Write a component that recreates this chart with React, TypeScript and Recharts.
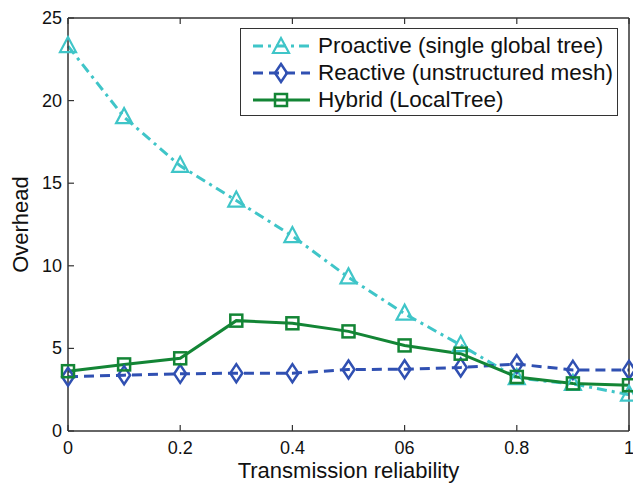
import React from 'react';
import { LineChart, Line, XAxis, YAxis, Legend } from 'recharts';

const reliability = [0, 0.1, 0.2, 0.3, 0.4, 0.5, 0.6, 0.7, 0.8, 0.9, 1];
const proactive = [23.3, 19.0, 16.05, 13.95, 11.8, 9.3, 7.1, 5.2, 3.2, 2.85, 2.2];
const reactive = [3.28, 3.38, 3.46, 3.5, 3.5, 3.72, 3.74, 3.85, 4.05, 3.7, 3.7];
const hybrid = [3.62, 4.03, 4.4, 6.68, 6.52, 6.03, 5.18, 4.68, 3.27, 2.88, 2.77];

const xTicks = [0, 0.2, 0.4, 0.6, 0.8, 1];
const xTickLabels = ['0', '0.2', '0.4', '06', '0.8', '1'];
const yTicks = [0, 5, 10, 15, 20, 25];

const FONT = '"Liberation Sans", Arial, sans-serif';
const AXIS = '#333333';
const C_PRO = '#3fc5c8';
const C_REA = '#3050b2';
const C_HYB = '#138535';

const data = reliability.map((r, i) => ({
  r,
  proactive: proactive[i],
  reactive: reactive[i],
  hybrid: hybrid[i],
}));

const series = [
  { key: 'proactive', name: 'Proactive (single global tree)', color: C_PRO, dash: '10 5 3 5', marker: 'triangle' },
  { key: 'reactive', name: 'Reactive (unstructured mesh)', color: C_REA, dash: '10 6', marker: 'diamond' },
  { key: 'hybrid', name: 'Hybrid (LocalTree)', color: C_HYB, dash: undefined, marker: 'square' },
];

function Marker({ type, cx, cy, color }: { type: string; cx: number; cy: number; color: string }) {
  if (type === 'triangle') {
    return (
      <polygon
        points={`${cx},${cy - 9} ${cx - 8},${cy + 6} ${cx + 8},${cy + 6}`}
        fill="none"
        stroke={color}
        strokeWidth={2.2}
      />
    );
  }
  if (type === 'diamond') {
    return (
      <polygon
        points={`${cx},${cy - 9} ${cx + 6},${cy} ${cx},${cy + 9} ${cx - 6},${cy}`}
        fill="none"
        stroke={color}
        strokeWidth={2.5}
      />
    );
  }
  return <rect x={cx - 6} y={cy - 6} width={12} height={12} fill="none" stroke={color} strokeWidth={2.5} />;
}

const makeDot = (type: string, color: string) => (props: any) => {
  const { cx, cy, index } = props;
  return (
    <g key={`${type}-${index}`}>
      <Marker type={type} cx={cx} cy={cy} color={color} />
    </g>
  );
};

const XTick = (props: any) => {
  const { x, y, payload } = props;
  const idx = xTicks.indexOf(payload.value);
  return (
    <g>
      <line x1={x} y1={y} x2={x} y2={y - 6} stroke={AXIS} strokeWidth={1.2} />
      <text x={x} y={y + 23} textAnchor="middle" fontSize={18} fontFamily={FONT} fill="#111">
        {idx >= 0 ? xTickLabels[idx] : ''}
      </text>
    </g>
  );
};

const TopTick = (props: any) => {
  const { x, y } = props;
  return <line x1={x} y1={y} x2={x} y2={y + 6} stroke={AXIS} strokeWidth={1.2} />;
};

const YTick = (props: any) => {
  const { x, y, payload } = props;
  return (
    <g>
      <line x1={x} y1={y} x2={x + 6} y2={y} stroke={AXIS} strokeWidth={1.2} />
      <text x={x - 6} y={y} textAnchor="end" dominantBaseline="central" fontSize={18} fontFamily={FONT} fill="#111">
        {payload.value}
      </text>
    </g>
  );
};

const RightTick = (props: any) => {
  const { x, y } = props;
  return <line x1={x} y1={y} x2={x - 6} y2={y} stroke={AXIS} strokeWidth={1.2} />;
};

const LegendBox = () => (
  <div
    style={{
      border: `1.5px solid ${AXIS}`,
      background: '#fff',
      width: 378,
      boxSizing: 'border-box',
      padding: '3px 0 2px 11px',
      fontFamily: FONT,
      fontSize: 22.5,
      color: '#111',
    }}
  >
    {series.map((s) => (
      <div key={s.key} style={{ display: 'flex', alignItems: 'center', height: 27 }}>
        <svg width={59} height={22} style={{ marginRight: 7 }}>
          <line x1={1} y1={11} x2={58} y2={11} stroke={s.color} strokeWidth={3} strokeDasharray={s.dash} />
          <Marker type={s.marker} cx={29} cy={s.marker === 'triangle' ? 12 : 11} color={s.color} />
        </svg>
        <span style={{ whiteSpace: 'nowrap' }}>{s.name}</span>
      </div>
    ))}
  </div>
);

export default function App() {
  return (
    <div style={{ position: 'absolute', left: 0, top: 0, background: '#fff' }}>
      <LineChart width={633} height={484} data={data} margin={{ top: 17, right: 0, bottom: 0, left: 0 }}>
        <XAxis
          dataKey="r"
          type="number"
          domain={[0, 1]}
          ticks={xTicks}
          height={53}
          tickLine={false}
          tickSize={0}
          tickMargin={0}
          tick={<XTick />}
          axisLine={{ stroke: AXIS, strokeWidth: 1.5 }}
          label={{ value: 'Transmission reliability', position: 'insideBottom', offset: 6, fontSize: 22, fontFamily: FONT, fill: '#111' }}
        />
        <XAxis
          xAxisId="top"
          orientation="top"
          dataKey="r"
          type="number"
          domain={[0, 1]}
          ticks={xTicks}
          height={1}
          tickLine={false}
          tickSize={0}
          tickMargin={0}
          tick={<TopTick />}
          axisLine={{ stroke: AXIS, strokeWidth: 1.5 }}
        />
        <YAxis
          type="number"
          domain={[0, 25]}
          ticks={yTicks}
          width={68}
          tickLine={false}
          tickSize={0}
          tickMargin={0}
          tick={<YTick />}
          axisLine={{ stroke: AXIS, strokeWidth: 1.5 }}
          label={{ value: 'Overhead', angle: -90, position: 'insideLeft', offset: 20, fontSize: 22, fontFamily: FONT, fill: '#111', style: { textAnchor: 'middle' } }}
        />
        <YAxis
          yAxisId="right"
          orientation="right"
          type="number"
          domain={[0, 25]}
          ticks={yTicks}
          width={4}
          tickLine={false}
          tickSize={0}
          tickMargin={0}
          tick={<RightTick />}
          axisLine={{ stroke: AXIS, strokeWidth: 1.5 }}
        />
        <Legend
          content={<LegendBox />}
          layout="horizontal"
          verticalAlign="middle"
          align="center"
          wrapperStyle={{ left: 240, top: 28, width: 'auto' }}
        />
        {series.map((s) => (
          <Line
            key={s.key}
            dataKey={s.key}
            name={s.name}
            stroke={s.color}
            strokeWidth={3}
            strokeDasharray={s.dash}
            dot={makeDot(s.marker, s.color)}
            activeDot={false}
            isAnimationActive={false}
          />
        ))}
      </LineChart>
    </div>
  );
}
